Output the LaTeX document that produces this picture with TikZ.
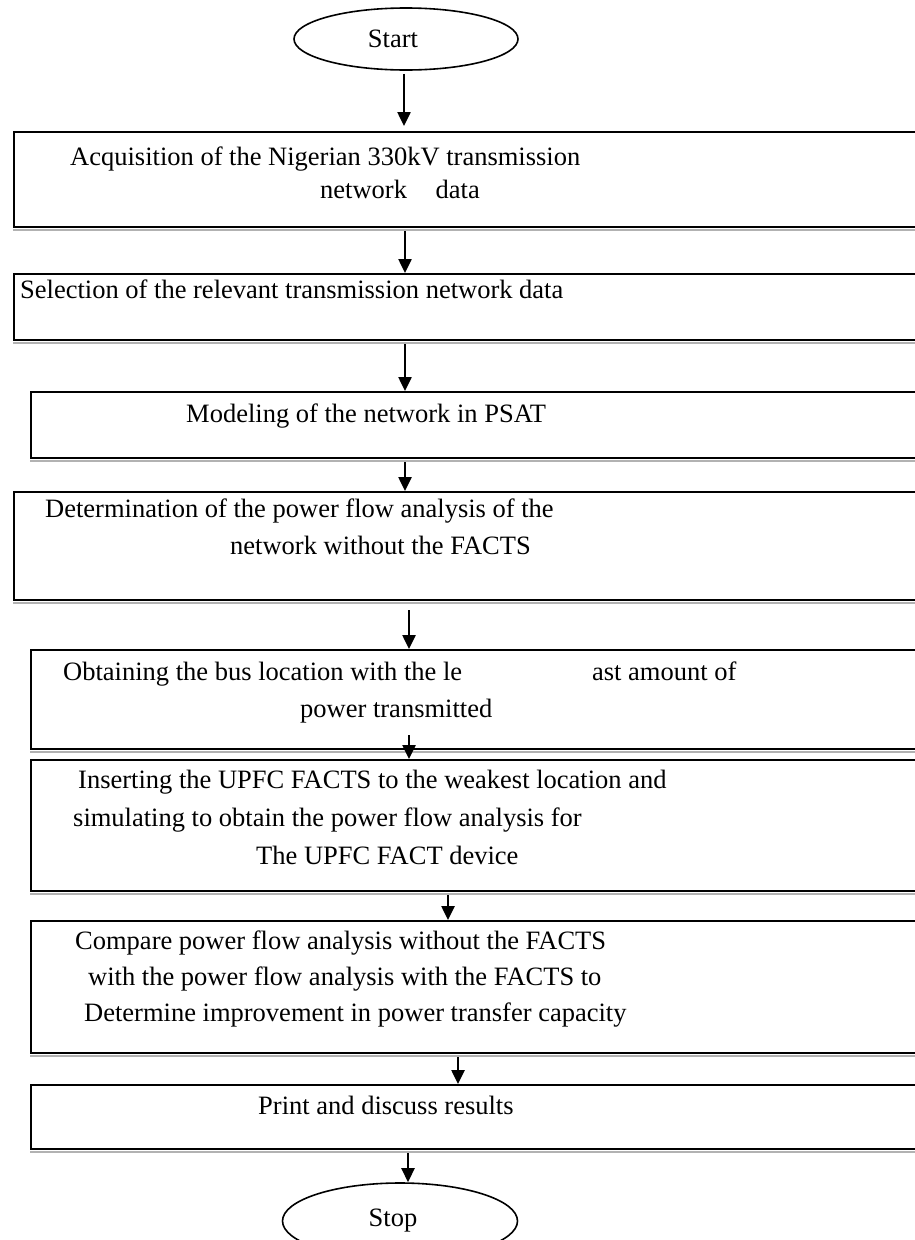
\documentclass[tikz,border=0pt]{standalone}
\usepackage{fontspec}
\setmainfont{Liberation Serif}
\usetikzlibrary{arrows.meta,shapes.geometric,calc}
\begin{document}
\begin{tikzpicture}[x=1pt,y=-1pt,
  boxnode/.style={draw=black, line width=2pt, rectangle, anchor=north west, inner sep=0pt, minimum width=1000pt},
  term/.style={draw=black, line width=1.6pt, ellipse, inner sep=0pt, font=\fontsize{26.5}{30}\selectfont},
  txt/.style={anchor=west, inner sep=0pt, font=\fontsize{26.5}{30}\selectfont, text height=0.7em, text depth=0.2em},
  arr/.style={line width=2.5pt, -{Triangle[length=14pt,width=13pt]}},
  shade/.style={draw=gray!60, line width=1.4pt}]
\useasboundingbox (0,0) rectangle (915,1240);
\clip (0,0) rectangle (915,1240);
% columns for connectors
\coordinate (colS) at (404,0);
\coordinate (colA) at (405,0);
\coordinate (colB) at (409,0);
\coordinate (colC) at (448,0);
\coordinate (colD) at (458,0);
\coordinate (colE) at (408,0);
% terminals
\node[term, minimum width=224pt, minimum height=62pt] (start) at (406,39) {Start\kern26pt\relax};
\node[term, minimum width=235pt, minimum height=76pt] (stop) at (400,1221) {Stop\kern14pt\relax};
% boxes
\node[boxnode, minimum height=95pt]  (b1) at (13,131) {};
\node[boxnode, minimum height=66pt]  (b2) at (13,273) {};
\node[boxnode, minimum height=66pt]  (b3) at (30,391) {};
\node[boxnode, minimum height=108pt] (b4) at (13,491) {};
\node[boxnode, minimum height=99pt]  (b5) at (30,649) {};
\node[boxnode, minimum height=131pt] (b6) at (30,759) {};
\node[boxnode, minimum height=132pt] (b7) at (30,920) {};
\node[boxnode, minimum height=64pt]  (b8) at (30,1084) {};
% light shadow under bottom edges
\foreach \b in {b1,b2,b3,b4,b5,b6,b7,b8}{
  \draw[shade] ([yshift=-2pt]\b.south west) -- ([yshift=-2pt]\b.south east);
}
% texts
\node[txt] (t1a) at (70,163) {Acquisition of the Nigerian 330kV transmission};
\node[txt] (t1b) at (320,196) {network\hspace{22pt} data};
\node[txt] (t2)  at (20,296) {Selection of the relevant transmission network data};
\node[txt] (t3)  at (186,420) {Modeling of the network in PSAT};
\node[txt] (t4a) at (45,515) {Determination of the power flow analysis of the};
\node[txt] (t4b) at (230,552) {network without the FACTS};
\node[txt] (t5a) at (63,678) {Obtaining the bus location with the le\hspace{130pt}ast amount of};
\node[txt] (t5b) at (300,715) {power transmitted};
\node[txt] (t6a) at (78,786) {Inserting the UPFC FACTS to the weakest location and};
\node[txt] (t6b) at (73,824) {simulating to obtain the power flow analysis for};
\node[txt] (t6c) at (256,862) {The UPFC FACT device};
\node[txt] (t7a) at (75,947) {Compare power flow analysis without the FACTS};
\node[txt] (t7b) at (88,983) {with the power flow analysis with the FACTS to};
\node[txt] (t7c) at (84,1019) {Determine improvement in power transfer capacity};
\node[txt] (t8)  at (258,1112) {Print and discuss results};
% connectors
\draw[arr, shorten >=5pt] ([yshift=-3pt]start.south -| colS) -- (b1.north -| colS);
\draw[arr] ([yshift=-3pt]b1.south -| colA) -- (b2.north -| colA);
\draw[arr] ([yshift=-3pt]b2.south -| colA) -- (b3.north -| colA);
\draw[arr] ([yshift=-3pt]b3.south -| colA) -- (b4.north -| colA);
\draw[arr] ([yshift=-9pt]b4.south -| colB) -- (b5.north -| colB);
\draw[arr] ([yshift=15pt]b5.south -| colB) -- (b6.north -| colB);
\draw[arr] ([yshift=-3pt]b6.south -| colC) -- (b7.north -| colC);
\draw[arr] ([yshift=-3pt]b7.south -| colD) -- (b8.north -| colD);
\draw[arr] ([yshift=-3pt]b8.south -| colE) -- (stop.north -| colE);
\end{tikzpicture}
\end{document}
